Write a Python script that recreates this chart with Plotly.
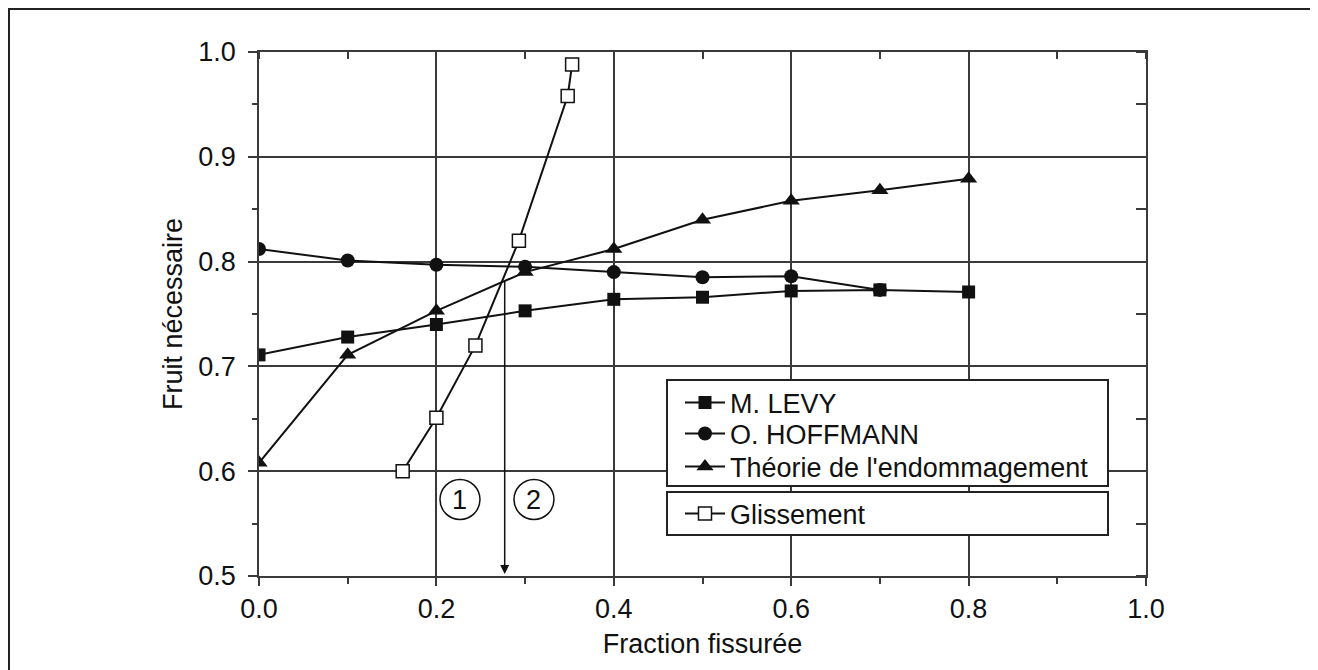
import plotly.graph_objects as go

# ---- data ----
x_levy = [0.0, 0.1, 0.2, 0.3, 0.4, 0.5, 0.6, 0.7, 0.8]
y_levy = [0.711, 0.728, 0.740, 0.753, 0.764, 0.766, 0.772, 0.773, 0.771]

x_hoff = [0.0, 0.1, 0.2, 0.3, 0.4, 0.5, 0.6, 0.7]
y_hoff = [0.812, 0.801, 0.797, 0.795, 0.790, 0.785, 0.786, 0.773]

x_endo = [0.0, 0.1, 0.2, 0.3, 0.4, 0.5, 0.6, 0.7, 0.8]
y_endo = [0.608, 0.711, 0.753, 0.790, 0.812, 0.840, 0.858, 0.868, 0.879]

x_gliss = [0.162, 0.200, 0.244, 0.293, 0.348, 0.353]
y_gliss = [0.600, 0.651, 0.720, 0.820, 0.958, 0.988]

names = ["M. LEVY", "O. HOFFMANN", "Théorie de l'endommagement", "Glissement"]
x_ticks = [0.0, 0.2, 0.4, 0.6, 0.8, 1.0]
x_ticktext = ["0.0", "0.2", "0.4", "0.6", "0.8", "1.0"]
y_ticks = [0.5, 0.6, 0.7, 0.8, 0.9, 1.0]
y_ticktext = ["0.5", "0.6", "0.7", "0.8", "0.9", "1.0"]

# annotation placements
arrow_x, arrow_y_top = 0.277, 0.783
circ_labels = ["1", "2"]
circ_x = [0.2266, 0.310]
circ_y = 0.573

FONT = "Liberation Sans, Arial, sans-serif"
INK = "#111111"
GRID = "#3a3a3a"
FS = 27

# screen geometry (page has 8px body margin)
OFF = 8
L, R, T, B = 259, 1146, 52, 576
W, H = 1318, 670


def px_x(p):
    return (p - L) / (R - L)


def px_y(p):
    return (B - p) / (B - T)


legend_ids = ["legend", "legend2", "legend3", "legend4"]
legend_rows = [403, 434, 467, 514]
legend_left = 680

fig = go.Figure()
fig.add_trace(go.Scatter(x=x_levy, y=y_levy, name=names[0], mode="lines+markers",
                         line=dict(color=INK, width=2),
                         marker=dict(symbol="square", size=13, color=INK), legend=legend_ids[0]))
fig.add_trace(go.Scatter(x=x_hoff, y=y_hoff, name=names[1], mode="lines+markers",
                         line=dict(color=INK, width=2),
                         marker=dict(symbol="circle", size=14, color=INK), legend=legend_ids[1]))
fig.add_trace(go.Scatter(x=x_endo, y=y_endo, name=names[2], mode="lines+markers",
                         line=dict(color=INK, width=2),
                         marker=dict(symbol="triangle-up", size=15, color=INK), legend=legend_ids[2]))
fig.add_trace(go.Scatter(x=x_gliss, y=y_gliss, name=names[3], mode="lines+markers",
                         line=dict(color=INK, width=2),
                         marker=dict(symbol="square", size=13, color="white",
                                     line=dict(color=INK, width=1.5)), legend=legend_ids[3]))

axis_common = dict(showline=True, linecolor=GRID, linewidth=1.5, showgrid=True,
                   gridcolor=GRID, gridwidth=1.5, zeroline=False,
                   tickfont=dict(family=FONT, size=FS, color=INK),
                   tickcolor=GRID, tickwidth=1.5)

legend_layouts = {}
for lid, row in zip(legend_ids, legend_rows):
    legend_layouts[lid] = dict(x=px_x(legend_left), y=px_y(row), xanchor="left",
                               yanchor="middle", bgcolor="rgba(0,0,0,0)", borderwidth=0,
                               font=dict(family=FONT, size=FS, color=INK), itemwidth=40)

fig.update_layout(
    width=W, height=H,
    margin=dict(l=L - OFF, r=W - (R - OFF), t=T - OFF, b=H - (B - OFF)),
    paper_bgcolor="white", plot_bgcolor="white",
    showlegend=True,
    font=dict(family=FONT, size=FS, color=INK),
    xaxis=dict(range=[0, 1], tickvals=x_ticks, ticktext=x_ticktext,
               ticks="outside", ticklen=8,
               minor=dict(ticks="outside", ticklen=6, dtick=0.1, tick0=0,
                          tickcolor=GRID, tickwidth=1.5, showgrid=False),
               title=dict(text="Fraction fissurée", standoff=11,
                          font=dict(family=FONT, size=FS, color=INK)),
               **axis_common),
    yaxis=dict(range=[0.5, 1.0], tickvals=y_ticks, ticktext=y_ticktext,
               ticks="outside", ticklen=9, ticklabelstandoff=7,
               minor=dict(ticks="outside", ticklen=5, dtick=0.05, tick0=0.5,
                          tickcolor=GRID, tickwidth=1.5, showgrid=False),
               title=dict(text="Fruit nécessaire", standoff=8,
                          font=dict(family=FONT, size=FS, color=INK)),
               **axis_common),
    xaxis2=dict(range=[0, 1], overlaying="x", side="top", anchor="y",
                showline=True, linecolor=GRID, linewidth=1.5, showgrid=False,
                zeroline=False, showticklabels=False, tickvals=x_ticks, ticks="",
                minor=dict(ticks="inside", ticklen=7, dtick=0.1, tick0=0,
                           tickcolor=GRID, tickwidth=1.5, showgrid=False)),
    yaxis2=dict(range=[0.5, 1.0], overlaying="y", side="right", anchor="x",
                showline=True, linecolor=GRID, linewidth=1.5, showgrid=False,
                zeroline=False, showticklabels=False, tickvals=y_ticks, ticks="",
                minor=dict(ticks="inside", ticklen=10, dtick=0.05, tick0=0.5,
                           tickcolor=GRID, tickwidth=1.5, showgrid=False)),
    **legend_layouts,
)

# invisible trace so the overlay (top/right) axes are drawn
fig.add_trace(go.Scatter(x=x_levy[:1], y=y_levy[:1], xaxis="x2", yaxis="y2",
                         mode="markers", marker=dict(opacity=0), showlegend=False,
                         hoverinfo="skip"))

# legend boxes
for (x0, y0, x1, y1) in [(667, 380, 1108, 486), (667, 492, 1108, 535)]:
    fig.add_shape(type="rect", xref="paper", yref="paper",
                  x0=px_x(x0), x1=px_x(x1), y0=px_y(y1), y1=px_y(y0),
                  line=dict(color="#222222", width=2), fillcolor="white", layer="above")

# outer frame (only left/top fall inside the window)
fig.add_shape(type="rect", xref="paper", yref="paper",
              x0=px_x(9), x1=px_x(1340), y0=px_y(690), y1=px_y(9),
              line=dict(color="#222222", width=2), fillcolor="rgba(0,0,0,0)", layer="above")

# arrow
fig.add_annotation(x=arrow_x, y=0.5, ax=arrow_x, ay=arrow_y_top, xref="x", yref="y",
                   axref="x", ayref="y", text="", showarrow=True, arrowhead=2,
                   arrowsize=1.2, arrowwidth=1.5, arrowcolor=INK, standoff=2)

# circled labels
for lbl, cx in zip(circ_labels, circ_x):
    fig.add_shape(type="circle", xref="x", yref="y", xsizemode="pixel", ysizemode="pixel",
                  xanchor=cx, yanchor=circ_y, x0=-20, x1=20, y0=-20, y1=20,
                  line=dict(color=INK, width=1.5), fillcolor="rgba(0,0,0,0)")
    fig.add_annotation(x=cx, y=circ_y, xref="x", yref="y", text=lbl, showarrow=False,
                       font=dict(family=FONT, size=FS, color=INK))

fig.write_html("out.html")
